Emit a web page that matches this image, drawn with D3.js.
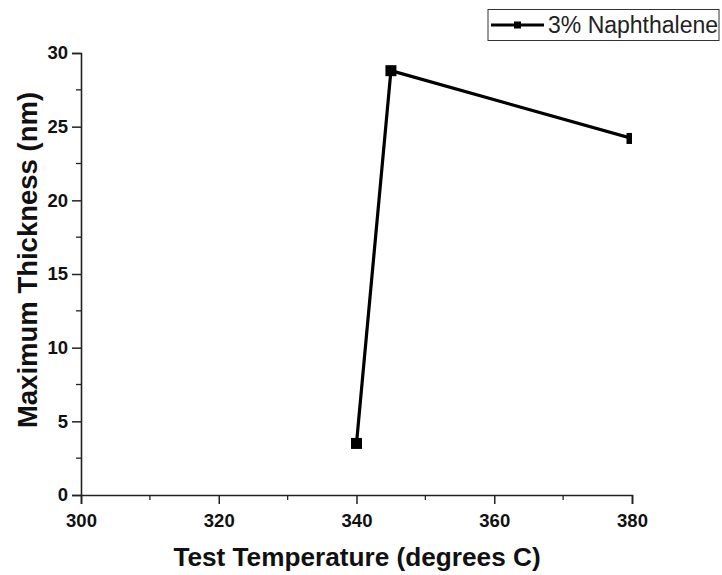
<!DOCTYPE html>
<html><head><meta charset="utf-8">
<script src="https://cdn.jsdelivr.net/npm/d3@7"></script>
<style>body{margin:0;background:#fff}svg{display:block}</style>
</head><body>
<svg id="c" width="722" height="575"></svg>
<script>
const temperatures = [340, 345, 380];
const thickness = [3.5, 28.8, 24.2];
const seriesName = "3% Naphthalene";
const xTicks = [300, 320, 340, 360, 380];
const yTicks = [0, 5, 10, 15, 20, 25, 30];
const xTitle = "Test Temperature (degrees C)";
const yTitle = "Maximum Thickness (nm)";

const svg = d3.select("#c");
const L = 81, R = 632, T = 53, B = 495;
const x = d3.scaleLinear().domain([300, 380]).range([L, R]);
const y = d3.scaleLinear().domain([0, 30]).range([B, T]);
const font = "'Liberation Sans', Arial, sans-serif";

svg.append("defs").append("clipPath").attr("id", "clip")
  .append("rect").attr("x", L).attr("y", T - 10).attr("width", R - L).attr("height", B - T + 10);

// minor ticks
const xMinor = d3.range(310, 380, 20);
const yMinor = d3.range(2.5, 30, 5);
svg.append("g").selectAll("line").data(xMinor).join("line")
  .attr("x1", d => x(d)).attr("x2", d => x(d)).attr("y1", B).attr("y2", B + 5)
  .attr("stroke", "#222").attr("stroke-width", 1.3);
svg.append("g").selectAll("line").data(yMinor).join("line")
  .attr("y1", d => y(d)).attr("y2", d => y(d)).attr("x1", L).attr("x2", L - 5)
  .attr("stroke", "#222").attr("stroke-width", 1.3);

const xAxis = svg.append("g").attr("transform", `translate(0,${B})`)
  .call(d3.axisBottom(x).tickValues(xTicks).tickSize(9).tickPadding(10).tickFormat(d3.format("d")));
const yAxis = svg.append("g").attr("transform", `translate(${L},0)`)
  .call(d3.axisLeft(y).tickValues(yTicks).tickSize(9).tickPadding(4).tickFormat(d3.format("d")));
[xAxis, yAxis].forEach(g => {
  g.select(".domain").attr("stroke", "#222").attr("stroke-width", 1.6);
  g.selectAll(".tick line").attr("stroke", "#222").attr("stroke-width", 1.5);
  g.selectAll("text").attr("font-family", font).attr("font-weight", "bold")
    .attr("font-size", 18.5).attr("fill", "#111");
});

svg.append("text").attr("x", (L + R) / 2 + 0.5).attr("y", 566).attr("text-anchor", "middle")
  .attr("font-family", font).attr("font-weight", "bold").attr("font-size", 26.2).attr("fill", "#111")
  .text(xTitle);
svg.append("text").attr("transform", `translate(37,260) rotate(-90)`)
  .attr("text-anchor", "middle")
  .attr("font-family", font).attr("font-weight", "bold").attr("font-size", 27.5).attr("fill", "#111")
  .text(yTitle);

const data = temperatures.map((t, i) => ({ t, v: thickness[i] }));
const plot = svg.append("g").attr("clip-path", "url(#clip)");
plot.append("path").datum(data)
  .attr("d", d3.line().x(d => x(d.t)).y(d => y(d.v)))
  .attr("fill", "none").attr("stroke", "#000").attr("stroke-width", 3.2);
plot.selectAll("rect").data(data).join("rect")
  .attr("x", d => x(d.t) - 5.5).attr("y", d => y(d.v) - 5.5)
  .attr("width", 11).attr("height", 11).attr("fill", "#000");

// legend
const lg = svg.append("g");
lg.append("rect").attr("x", 488).attr("y", 9.5).attr("width", 231).attr("height", 31)
  .attr("fill", "#fff").attr("stroke", "#333").attr("stroke-width", 1);
lg.append("line").attr("x1", 491).attr("x2", 544).attr("y1", 25).attr("y2", 25)
  .attr("stroke", "#000").attr("stroke-width", 3);
lg.append("rect").attr("x", 514).attr("y", 21.5).attr("width", 7).attr("height", 7).attr("fill", "#000");
lg.append("text").attr("x", 548).attr("y", 33).attr("font-family", font)
  .attr("font-size", 23).attr("fill", "#222").text(seriesName);
</script>
</body></html>
